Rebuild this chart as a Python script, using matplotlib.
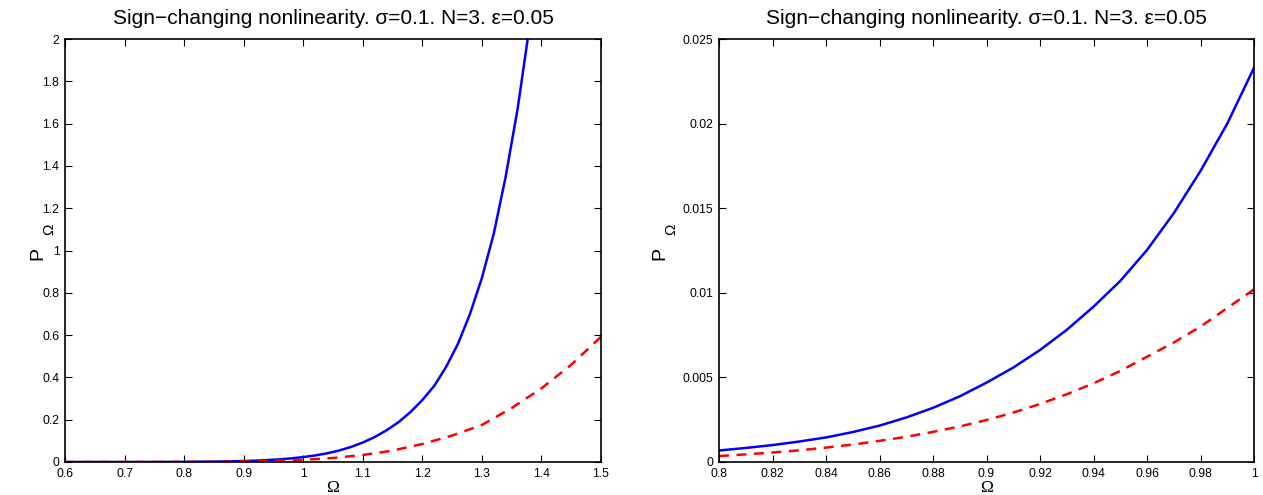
import matplotlib
matplotlib.use("Agg")
import matplotlib.pyplot as plt

# ---- data ----
omega_left_blue = [0.60, 0.65, 0.70, 0.75, 0.80, 0.85, 0.90, 0.92, 0.94, 0.96, 0.98, 1.00,
                   1.02, 1.04, 1.06, 1.08, 1.10, 1.12, 1.14, 1.16, 1.18, 1.20, 1.22, 1.24,
                   1.26, 1.28, 1.30, 1.32, 1.34, 1.36, 1.38, 1.40]
p_left_blue = [0.0, 0.00001, 0.00005, 0.0002, 0.0007, 0.0019, 0.0047, 0.0066, 0.0092, 0.0125, 0.0172, 0.0233,
               0.031, 0.041, 0.054, 0.071, 0.092, 0.118, 0.150, 0.188, 0.236, 0.293, 0.36, 0.45,
               0.56, 0.70, 0.87, 1.08, 1.35, 1.67, 2.06, 2.55]

omega_left_red = [0.60, 0.70, 0.80, 0.85, 0.90, 0.95, 1.00, 1.05, 1.10, 1.15, 1.20, 1.25,
                  1.30, 1.35, 1.40, 1.45, 1.50]
p_left_red = [0.0, 0.00001, 0.00035, 0.0012, 0.00248, 0.0053, 0.0102, 0.019, 0.033, 0.054, 0.085, 0.125,
              0.175, 0.255, 0.348, 0.46, 0.592]

omega_right = [0.80, 0.81, 0.82, 0.83, 0.84, 0.85, 0.86, 0.87, 0.88, 0.89, 0.90,
               0.91, 0.92, 0.93, 0.94, 0.95, 0.96, 0.97, 0.98, 0.99, 1.00]
p_right_blue = [0.00068, 0.00083, 0.00100, 0.00121, 0.00145, 0.00177, 0.00215, 0.00263, 0.00320, 0.00388, 0.00469,
                0.00558, 0.00662, 0.00781, 0.00918, 0.0107, 0.01253, 0.0147, 0.0172, 0.0200, 0.0233]
p_right_red = [0.00035, 0.00045, 0.00056, 0.00069, 0.00085, 0.00103, 0.00125, 0.00149, 0.00178, 0.00210, 0.00248,
               0.00292, 0.00343, 0.00400, 0.00465, 0.00538, 0.00622, 0.00706, 0.0080, 0.0091, 0.0102]

left_xticks = [0.6, 0.7, 0.8, 0.9, 1.0, 1.1, 1.2, 1.3, 1.4, 1.5]
left_xticklabels = ["0.6", "0.7", "0.8", "0.9", "1", "1.1", "1.2", "1.3", "1.4", "1.5"]
left_yticks = [0, 0.2, 0.4, 0.6, 0.8, 1.0, 1.2, 1.4, 1.6, 1.8, 2.0]
left_yticklabels = ["0", "0.2", "0.4", "0.6", "0.8", "1", "1.2", "1.4", "1.6", "1.8", "2"]
right_xticks = [0.8, 0.82, 0.84, 0.86, 0.88, 0.9, 0.92, 0.94, 0.96, 0.98, 1.0]
right_xticklabels = ["0.8", "0.82", "0.84", "0.86", "0.88", "0.9", "0.92", "0.94", "0.96", "0.98", "1"]
right_yticks = [0, 0.005, 0.01, 0.015, 0.02, 0.025]
right_yticklabels = ["0", "0.005", "0.01", "0.015", "0.02", "0.025"]

title_text = "Sign\u2212changing nonlinearity. \u03c3=0.1. N=3. \u03b5=0.05"

plt.rcParams['font.family'] = ['Liberation Sans', 'DejaVu Sans']

W, H = 1263, 495
fig = plt.figure(figsize=(W / 100, H / 100), dpi=100)
ax1 = fig.add_axes([65/W, 33/H, 536/W, 423/H])
ax2 = fig.add_axes([719/W, 33/H, 535/W, 423/H])


def style(ax, xt, xtl, yt, ytl, xlim, ylim, px, cx):
    ax.set_xlim(*xlim)
    ax.set_ylim(*ylim)
    ax.set_xticks(xt)
    ax.set_xticklabels(xtl)
    ax.set_yticks(yt)
    ax.set_yticklabels(ytl)
    ax.tick_params(direction='in', length=5, width=0.8, top=True, right=True,
                   labelsize=8.7, colors='black')
    ax.tick_params(axis='x', pad=4)
    ax.tick_params(axis='y', pad=4)
    for s in ax.spines.values():
        s.set_linewidth(1.2)
    ax.set_title(title_text, fontsize=15, pad=11)
    # x label: Omega
    fig.text(cx / W, 1 - 491.5 / H, "\u03a9", fontsize=12.5,
             ha='center', va='baseline', family=['Liberation Serif', 'DejaVu Serif'])
    # y label: "P" with subscript Omega
    fig.text(px / W, 1 - 254 / H, "P", rotation=90, fontsize=14,
             ha='center', va='center', family=['Liberation Sans', 'DejaVu Sans'])
    fig.text((px + 11) / W, 1 - 229 / H, "\u03a9", rotation=90, fontsize=11,
             ha='center', va='center', family=['Liberation Sans', 'DejaVu Sans'])


ax1.plot(omega_left_blue, p_left_blue, color='#0000ff', lw=1.8)
ax1.plot(omega_left_red, p_left_red, color='#ff0000', lw=1.8, ls=(0, (4, 3)))
style(ax1, left_xticks, left_xticklabels, left_yticks, left_yticklabels, (0.6, 1.5), (0, 2), 38, 333)

ax2.plot(omega_right, p_right_blue, color='#0000ff', lw=1.8)
ax2.plot(omega_right, p_right_red, color='#ff0000', lw=1.8, ls=(0, (4, 3)))
style(ax2, right_xticks, right_xticklabels, right_yticks, right_yticklabels, (0.8, 1.0), (0, 0.025), 660, 986.5)

fig.savefig("out.png", dpi=100)
